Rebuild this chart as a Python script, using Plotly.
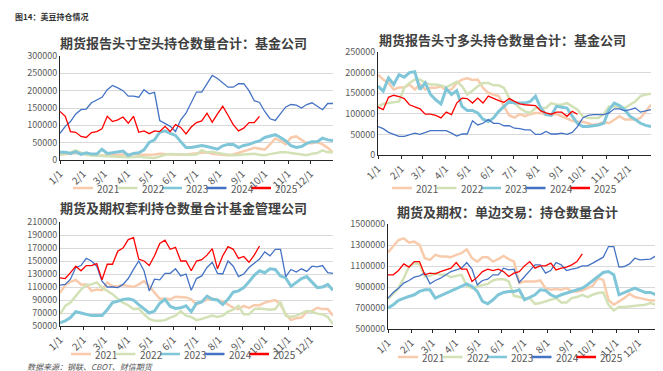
import pandas as pd
import plotly.graph_objects as go

W, H = 663, 371
weeks = pd.date_range("2001-01-01", periods=53, freq="7D")
years = ["2021", "2022", "2023", "2024", "2025"]
colors = {"2021": "#F8CBAD", "2022": "#D3E2B6", "2023": "#80C6D9", "2024": "#4472C4", "2025": "#FF0000"}
widths = {"2021": 2.5, "2022": 2.5, "2023": 3, "2024": 1.3, "2025": 1.3}
month_ticks = pd.date_range("2001-01-01", periods=12, freq="MS")
tick_labels = [f"{m}/1" for m in range(1, 13)]

titles = ["期货报告头寸空头持仓数量合计：基金公司",
          "期货报告头寸多头持仓数量合计：基金公司",
          "期货及期权套利持仓数量合计基金管理公司",
          "期货及期权：单边交易：持仓数量合计"]

# Panel 1 (thousands)
p1_2021 = [15,17,18,20,18,16,15,14,13,14,15,15,16,18,17,15,14,15,16,18,17,16,15,15,16,17,
           18,20,22,18,16,15,14,16,20,25,30,35,33,30,45,62,55,45,65,68,58,48,48,52,45,35,22]
p1_2022 = [15,18,22,28,22,15,13,12,12,11,10,10,9,8,9,10,8,6,6,10,15,17,16,15,14,15,16,28,22,24,
           20,17,15,14,15,16,18,18,15,14,17,20,22,22,20,18,15,14,18,20,28,22,22]
p1_2023 = [22,22,19,24,16,21,17,17,31,19,21,24,26,13,19,21,29,51,58,80,84,77,71,53,36,36,39,42,39,34,
           31,41,45,45,36,42,45,51,55,65,70,73,65,55,41,36,39,48,53,53,63,58,56]
p1_2024 = [77,97,111,133,145,147,165,172,181,203,215,208,200,184,184,181,203,191,195,114,
           106,97,82,116,135,165,196,196,222,244,235,222,210,210,220,220,200,171,166,140,
           119,114,135,153,160,158,150,160,165,155,145,163,163]
p1_2025 = [140,126,82,80,68,65,79,82,90,126,111,116,124,106,126,80,84,76,84,82,
           97,82,102,94,75,95,108,113,135,109,133,155,129,102,84,92,108,108,126]

# Panel 2 (thousands)
p2_2021 = [195,183,175,159,164,164,171,159,171,159,163,163,167,156,159,175,183,186,182,183,
           163,151,147,143,118,96,91,99,94,99,102,102,98,99,99,94,88,83,81,81,
           77,73,75,80,77,86,94,86,86,86,90,106,122]
p2_2022 = [118,124,126,128,130,163,175,183,183,175,171,171,169,164,171,178,167,147,156,167,
           175,175,169,169,163,138,126,114,106,102,114,114,114,126,122,122,126,118,110,94,
           90,90,90,99,118,118,114,114,122,130,143,147,149]
p2_2023 = [167,155,187,171,195,189,200,202,159,175,147,134,124,161,147,156,118,108,108,102,
           87,81,90,106,118,130,126,126,126,130,143,114,98,96,118,116,114,94,77,69,
           69,71,73,77,110,126,120,110,94,86,77,72,69]
p2_2024 = [69,64,55,50,45,45,49,53,50,55,59,59,59,59,53,46,51,51,83,73,
           77,86,77,77,71,71,65,64,61,61,50,50,57,51,51,53,50,55,69,90,
           96,98,98,98,102,112,112,107,110,114,104,107,110]
p2_2025 = [116,110,140,145,142,137,122,116,112,99,99,96,90,104,98,126,138,137,126,138,
           126,143,137,132,128,137,130,124,122,121,120,107,102,99,104,104,94,106,99]

# Panel 3 (thousands)
p3_2021 = [101,113,118,121,114,114,104,106,105,117,111,111,113,111,110,114,119,111,101,92,
           92,91,95,94,94,91,83,87,91,92,90,88,83,78,76,81,78,82,82,86,
           88,90,83,68,59,62,63,72,73,78,76,76,66]
p3_2022 = [68,81,86,96,106,113,114,117,109,104,99,92,86,82,76,77,68,61,58,58,
           59,63,66,73,66,64,59,61,63,66,64,66,72,75,81,68,68,76,77,76,
           75,76,87,66,64,66,69,73,72,69,68,64,53]
p3_2023 = [55,58,63,72,70,68,66,66,66,75,86,88,91,92,90,83,76,70,73,85,
           91,80,77,78,81,72,85,87,96,91,90,83,91,102,104,109,118,128,135,132,
           138,137,127,124,111,117,123,126,117,109,110,114,105]
p3_2024 = [113,114,122,140,143,154,150,142,119,110,110,109,114,123,137,150,135,104,122,121,
           131,131,138,127,130,105,123,127,140,148,131,130,150,142,126,130,140,147,153,164,
           158,168,168,126,137,133,138,134,142,141,143,132,131]
p3_2025 = [124,123,132,142,135,143,143,146,121,145,145,165,170,183,186,153,150,143,158,177,
           182,168,171,150,150,135,150,152,159,169,138,158,172,168,154,157,148,159,173]

# Panel 4 (thousands)
p4_2021 = [1228,1291,1348,1364,1323,1332,1301,1174,1158,1206,1190,1190,1184,1206,1222,1259,1174,1142,1184,1184,
           1142,1165,1196,1165,1142,937,953,953,953,962,889,873,880,873,889,858,858,867,889,911,
           984,968,778,731,763,794,835,804,794,785,772,772,772]
p4_2022 = [785,842,889,984,1095,1127,1120,1000,1006,1032,1016,1016,994,1006,1016,911,889,905,921,930,
           962,975,975,953,816,804,794,794,740,747,763,772,794,753,753,794,804,826,804,826,
           842,848,731,677,709,709,715,722,722,731,747,731,690]
p4_2023 = [699,731,772,794,810,826,858,873,873,794,816,842,867,889,911,930,905,858,763,740,
           778,826,848,858,858,873,778,804,826,873,867,826,804,826,842,858,867,889,921,962,
           1006,1038,1047,1016,826,848,873,889,867,848,848,826,763]
p4_2024 = [794,848,889,937,962,994,1006,1032,930,962,984,1016,1047,1063,1079,1133,1070,921,962,975,
           1016,1016,1079,1063,1070,943,1000,1047,1111,1111,1032,1057,1133,1111,1057,1070,1079,1101,1101,1127,
           1158,1184,1285,1285,1089,1095,1120,1174,1158,1165,1165,1196,1127]
p4_2025 = [1016,1016,1057,1120,1089,1142,1142,1016,1032,1025,1047,1063,1079,1133,1070,1070,953,994,1047,1070,
           1057,1070,1047,1000,1032,1047,1101,1142,1079,1101,1101,1127,1063,1079,1089,1111,1142,1215]

panels = [
    dict(data=[p1_2021, p1_2022, p1_2023, p1_2024, p1_2025], rng=[0, 300000], dtick=50000,
         px=(52, 325), py=(48, 152), title_xy=(175, 35), leg_xy=(65, 180)),
    dict(data=[p2_2021, p2_2022, p2_2023, p2_2024, p2_2025], rng=[0, 250000], dtick=50000,
         px=(370, 643), py=(44, 147), title_xy=(494, 31), leg_xy=(384, 180)),
    dict(data=[p3_2021, p3_2022, p3_2023, p3_2024, p3_2025], rng=[50000, 210000], dtick=20000,
         px=(52, 325), py=(214, 318), title_xy=(175, 200), leg_xy=(63, 346)),
    dict(data=[p4_2021, p4_2022, p4_2023, p4_2024, p4_2025], rng=[500000, 1500000], dtick=200000,
         px=(380, 653), py=(216, 321), title_xy=(499, 203), leg_xy=(390, 349)),
]
LEG_STEP = 44.5

FONT = "Noto Sans CJK SC"
fig = go.Figure()
layout = dict(width=W, height=H, margin=dict(l=0, r=0, t=0, b=0, autoexpand=False),
              paper_bgcolor="white", plot_bgcolor="white", showlegend=False,
              font=dict(family=FONT, color="#595959", size=10), annotations=[], shapes=[])

for k, p in enumerate(panels):
    n = k + 1
    xa = "x" if n == 1 else f"x{n}"
    ya = "y" if n == 1 else f"y{n}"
    for yr, vals in zip(years, p["data"]):
        fig.add_trace(go.Scatter(
            x=weeks[:len(vals)], y=[v * 1000 for v in vals], mode="lines", name=yr,
            line=dict(color=colors[yr], width=widths[yr]),
            xaxis=xa, yaxis=ya))
    xkey = "xaxis" if n == 1 else f"xaxis{n}"
    ykey = "yaxis" if n == 1 else f"yaxis{n}"
    layout[xkey] = dict(domain=[p["px"][0] / W, p["px"][1] / W], anchor=ya,
                        range=["2001-01-01", "2001-12-31"], tickvals=month_ticks, ticktext=tick_labels,
                        tickangle=-45, showgrid=False, showline=True, linecolor="#262626", linewidth=1,
                        ticks="outside", ticklen=3, tickcolor="#262626",
                        tickfont=dict(size=10, color="#595959"), fixedrange=True)
    layout[ykey] = dict(domain=[1 - p["py"][1] / H, 1 - p["py"][0] / H], anchor=xa,
                        range=p["rng"], dtick=p["dtick"], tick0=p["rng"][0], tickformat="d",
                        showgrid=True, gridcolor="#D9D9D9", gridwidth=1,
                        showline=True, linecolor="#262626", linewidth=1, zeroline=False,
                        ticks="", tickfont=dict(size=9, color="#595959"))
    # legend (manual, below each panel)
    lx, ly = p["leg_xy"]
    for i, yr in enumerate(years):
        x0 = lx + i * LEG_STEP
        layout["shapes"].append(dict(type="line", xref="paper", yref="paper",
                                     x0=x0 / W, x1=(x0 + 20) / W, y0=1 - ly / H, y1=1 - ly / H,
                                     line=dict(color=colors[yr], width=2.5)))
        layout["annotations"].append(dict(
            text=yr, x=(x0 + 22) / W, y=1 - ly / H, xref="paper", yref="paper", showarrow=False,
            xanchor="left", yanchor="middle", font=dict(family=FONT, size=10, color="#595959")))
    layout["annotations"].append(dict(
        text=f"<b>{titles[k]}</b>", x=p["title_xy"][0] / W, y=1 - p["title_xy"][1] / H,
        xref="paper", yref="paper", showarrow=False, xanchor="center", yanchor="middle",
        font=dict(family=FONT, size=13, color="#404040")))

layout["annotations"].append(dict(
    text="<b>图14：美豆持仓情况</b>", x=5 / W, y=1 - 9 / H, xref="paper", yref="paper",
    showarrow=False, xanchor="left", yanchor="middle", font=dict(family=FONT, size=8, color="#333333")))
layout["annotations"].append(dict(
    text="<i>数据来源：钢联、CBOT、财信期货</i>", x=17 / W, y=1 - 358 / H, xref="paper", yref="paper",
    showarrow=False, xanchor="left", yanchor="middle", font=dict(family=FONT, size=8, color="#555555")))

fig.update_layout(**layout)
fig.write_html("out.html")
